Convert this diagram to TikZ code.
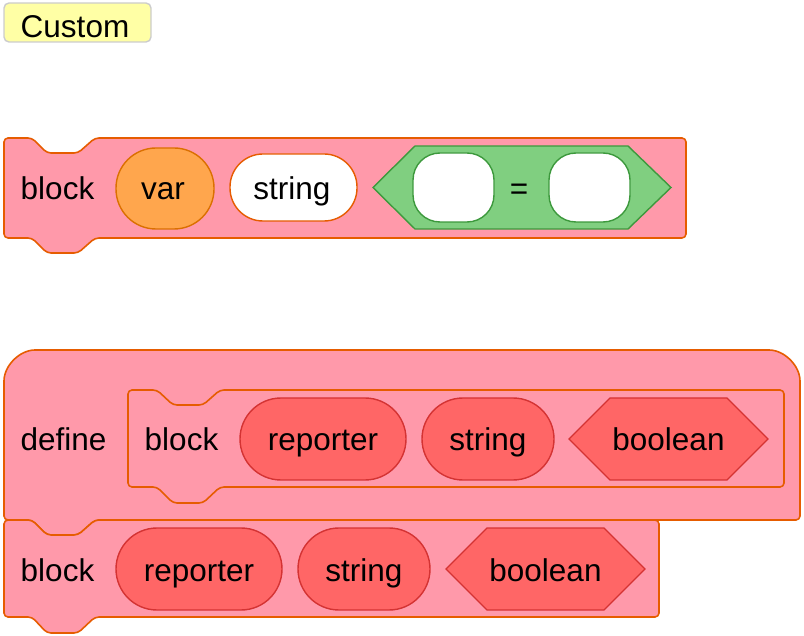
\documentclass[tikz,border=0pt]{standalone}
\usepackage{fontspec}
\setmainfont{Liberation Sans}
\definecolor{blockfill}{HTML}{FF99AA}
\definecolor{blockline}{HTML}{E65C00}
\definecolor{repfill}{HTML}{FF6666}
\definecolor{repline}{HTML}{D43333}
\definecolor{varfill}{HTML}{FFA64D}
\definecolor{varline}{HTML}{DB7000}
\definecolor{boolfill}{HTML}{80CF80}
\definecolor{boolline}{HTML}{3D993D}
\definecolor{notefill}{HTML}{FFFFA5}
\definecolor{noteline}{HTML}{CCCCCC}
\tikzset{
  blk/.style={fill=blockfill,draw=blockline,line width=1.6pt,rounded corners=4pt,line join=round},
  rep/.style={fill=repfill,draw=repline,line width=1.4pt},
  varbox/.style={fill=varfill,draw=varline,line width=1.4pt},
  strbox/.style={fill=white,draw=blockline,line width=1.4pt},
  boolbox/.style={fill=boolfill,draw=boolline,line width=1.4pt,line join=miter},
  inbox/.style={fill=white,draw=boolline,line width=1.4pt},
  lbl/.style={font=\fontsize{31.5}{31.5}\selectfont,anchor=base,inner sep=0pt,text=black},
}
\begin{document}
\begin{tikzpicture}[x=1pt,y=-1pt]
\useasboundingbox (0,0) rectangle (804,636);
% Custom label
\draw[fill=notefill,draw=noteline,line width=1.4pt,rounded corners=5pt] (4,3) rectangle (151,42);
\node[lbl] (custom) at (75,38) {Custom};

% Block 1
\draw[blk] (4,138) -- (32,138) -- (47,153) -- (78,153) -- (95,138) -- (686,138) -- (686,238)
  -- (95,238) -- (78,253) -- (47,253) -- (32,238) -- (4,238) -- cycle;
\node[lbl] (b1) at (57.5,200) {block};
\draw[varbox,rounded corners=40pt] (116,148) rectangle (214,229);
\node[lbl] (b1var) at (163,200) {var};
\draw[strbox,rounded corners=33pt] (230,154) rectangle (357,221);
\node[lbl] (b1str) at (292,200) {string};
\draw[boolbox] (373,187.5) -- (415,146) -- (628,146) -- (671,187.5) -- (628,229) -- (415,229) -- cycle;
\draw[inbox,rounded corners=27pt] (413,153) rectangle (494,222);
\draw[inbox,rounded corners=27pt] (549,153) rectangle (630,222);
\node[lbl] (b1eq) at (519,200) {=};

% Define hat block
\draw[blk] (4,385) .. controls (4,365.7) and (19.7,350) .. (39,350) -- (765,350)
  .. controls (784.3,350) and (800,365.7) .. (800,385) -- (800,520)
  -- (95,520) -- (78,535) -- (47,535) -- (32,520) -- (4,520) -- cycle;
\node[lbl] (def) at (63.5,451) {define};
% prototype block
\draw[blk] (128,390) -- (157,390) -- (173,405) -- (203,405) -- (220,390) -- (784,390) -- (784,487)
  -- (220,487) -- (203,503) -- (173,503) -- (157,487) -- (128,487) -- cycle;
\node[lbl] (pb) at (181.5,451) {block};
\draw[rep,rounded corners=41pt] (240,398) rectangle (406,480);
\node[lbl] (prep) at (323,451) {reporter};
\draw[rep,rounded corners=41pt] (422,398) rectangle (554,480);
\node[lbl] (pstr) at (488,451) {string};
\draw[rep,line join=miter] (569,439) -- (610,398) -- (727,398) -- (768,439) -- (727,480) -- (610,480) -- cycle;
\node[lbl] (pbool) at (668.5,451) {boolean};

% Lower block
\draw[blk] (4,520) -- (32,520) -- (47,535) -- (78,535) -- (95,520) -- (659,520) -- (659,617)
  -- (95,617) -- (78,633) -- (47,633) -- (32,617) -- (4,617) -- cycle;
\node[lbl] (lb) at (57.5,581) {block};
\draw[rep,rounded corners=41pt] (116,528) rectangle (282,610);
\node[lbl] (lrep) at (199,581) {reporter};
\draw[rep,rounded corners=41pt] (298,528) rectangle (430,610);
\node[lbl] (lstr) at (364,581) {string};
\draw[rep,line join=miter] (446,569) -- (487,528) -- (604,528) -- (645,569) -- (604,610) -- (487,610) -- cycle;
\node[lbl] (lbool) at (545.5,581) {boolean};
\end{tikzpicture}
\end{document}
